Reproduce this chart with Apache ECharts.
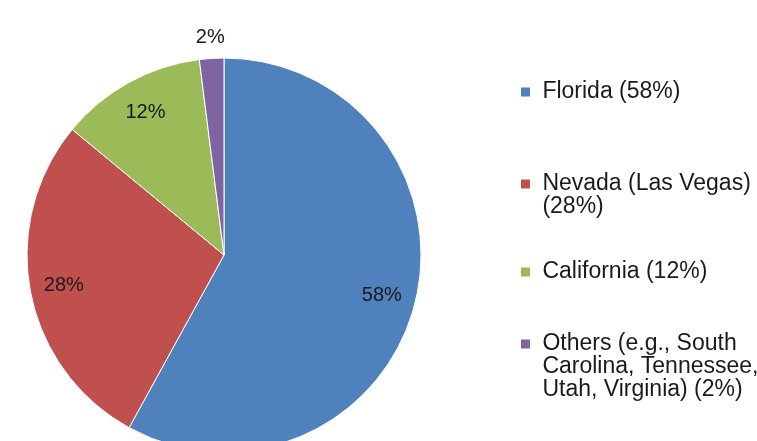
<!DOCTYPE html>
<html>
<head>
<meta charset="utf-8">
<script src="https://cdn.jsdelivr.net/npm/echarts@6/dist/echarts.min.js"></script>
<style>
html, body { margin: 0; padding: 0; background: #fff; }
#pie { width: 757px; height: 441px; }
</style>
</head>
<body>
<div id="pie"></div>
<script>
// 数据
var states = ['Florida', 'Nevada (Las Vegas)', 'California', 'Others'];
var shares = [58, 28, 12, 2];
var legendTexts = [
    'Florida (58%)',
    'Nevada (Las Vegas)\n(28%)',
    'California (12%)',
    'Others (e.g., South\nCarolina, Tennessee,\nUtah, Virginia) (2%)'
];
var colors = ['#4f81bd', '#c0504d', '#9bbb59', '#8064a2'];

var myChart = echarts.init(document.getElementById('pie'));

var lineH = 23;
var firstLineY = [92, 184, 272, 344];   // 每个图例第一行的中心

function getData(labelFor) {
    let arr = [];
    states.forEach((s, i) => {
        arr.push({
            name: s,
            value: shares[i],
            label: { show: labelFor(i) }
        });
    });
    return arr;
}

// 每个图例单独一个, 图标对齐第一行
var legends = [];
states.forEach((s, i) => {
    let lines = legendTexts[i].split('\n').length;
    legends.push({
        data: [s],
        orient: 'vertical',
        left: 519,
        top: firstLineY[i] - (2 * lines - 1) * lineH / 2,
        padding: 0,
        icon: 'rect',
        itemWidth: 11,
        itemHeight: 11,
        selectedMode: false,
        formatter: function () {
            let parts = legendTexts[i].split('\n');
            let pad = [];
            for (let k = 1; k < parts.length; k++) pad.push('');
            return pad.concat(parts.map(p => ' ' + p)).join('\n');
        },
        textStyle: {
            fontFamily: 'Liberation Sans',
            fontSize: 23,
            lineHeight: lineH,
            color: '#1a1a1a'
        }
    });
});

var labelStyle = {
    position: 'inside',
    formatter: '{c}%',
    fontFamily: 'Liberation Sans',
    fontSize: 20,
    color: '#1a1a1a'
};

var options = {
    backgroundColor: '#fff',
    color: colors,
    animation: false,
    legend: legends,
    series: [{
        name: 'share',
        type: 'pie',
        center: [224, 255],
        radius: 197,
        startAngle: 90,
        clockwise: true,
        label: { show: false },
        labelLine: { show: false },
        itemStyle: { borderColor: '#ffffff', borderWidth: 1 },
        emphasis: { disabled: true },
        data: getData(() => false)
    }, {
        // 饼内标签
        name: 'labels',
        type: 'pie',
        center: [224, 255],
        radius: [120, 200],
        startAngle: 90,
        silent: true,
        itemStyle: { color: 'rgba(0,0,0,0)' },
        label: labelStyle,
        labelLine: { show: false },
        data: getData(i => i < 3)
    }, {
        // 饼外的 2%
        name: 'outer',
        type: 'pie',
        center: [224, 255],
        radius: [206, 224],
        startAngle: 90,
        silent: true,
        itemStyle: { color: 'rgba(0,0,0,0)' },
        label: labelStyle,
        labelLine: { show: false },
        data: getData(i => i === 3)
    }]
};
myChart.setOption(options);
</script>
</body>
</html>
